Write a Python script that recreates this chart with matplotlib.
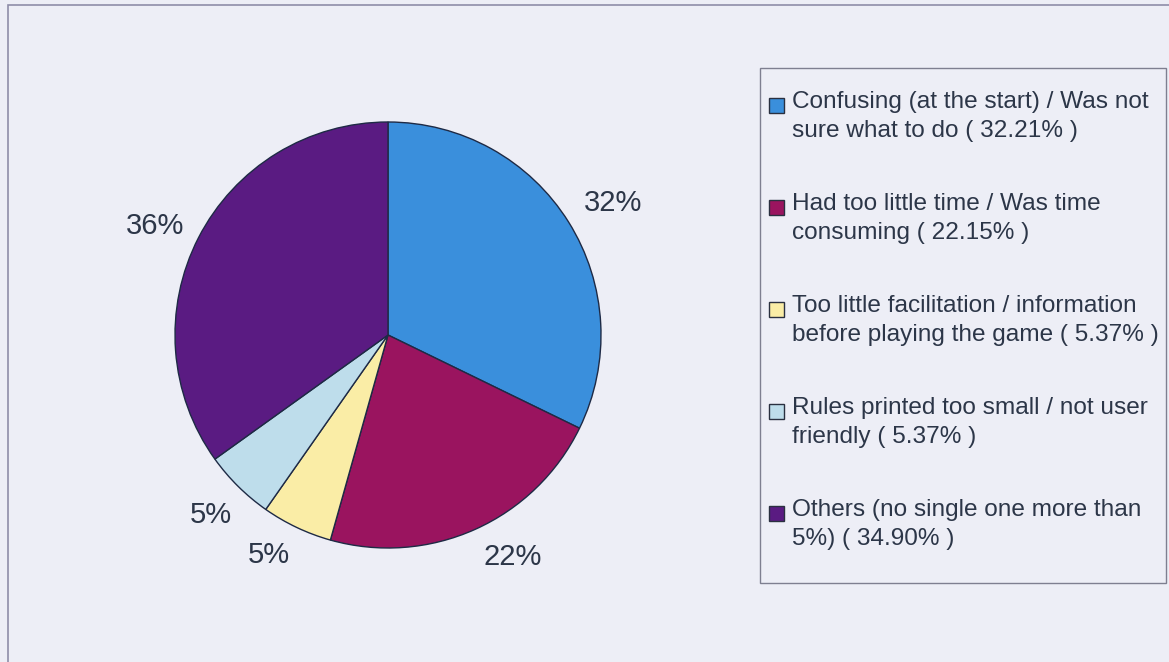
import numpy as np
import matplotlib.pyplot as plt
from matplotlib.patches import Rectangle

# data
categories = [
    'Confusing (at the start) / Was not\nsure what to do',
    'Had too little time / Was time\nconsuming',
    'Too little facilitation / information\nbefore playing the game',
    'Rules printed too small / not user\nfriendly',
    'Others (no single one more than\n5%)',
]
shares = [32.21, 22.15, 5.37, 5.37, 34.90]
pie_labels = ['32%', '22%', '5%', '5%', '36%']
colors = ['#3A8FDC', '#9A145F', '#FAEDA6', '#BEDDEB', '#5A1B82']

# small nudges of the slice labels (degrees, radius) to sit where the original put them
label_shift = [-1.6, 5.2, -3.0, 0.2, 2.0]
label_dist = [1.225, 1.196, 1.175, 1.185, 1.206]

BG = '#EDEEF6'
TXT = '#2C3648'
W, H = 1169, 662

plt.rcParams['font.family'] = ['Liberation Sans', 'DejaVu Sans']

fig = plt.figure(figsize=(W / 100, H / 100), dpi=100, facecolor=BG)

# outer chart frame (runs off the right / bottom of the picture)
fig.patches.append(Rectangle((8 / W, -0.1), 1.2, 1 - 5 / H + 0.1, transform=fig.transFigure,
                             facecolor='none', edgecolor='#8F8DA8', linewidth=1.2))

# pie, centre (388, 335) px, radius 213 px
cx, cy, r = 388, 335, 213
ax = fig.add_axes([(cx - r) / W, (H - cy - r) / H, 2 * r / W, 2 * r / H])
ax.set_facecolor('none')
wedges, texts = ax.pie(shares, labels=pie_labels, colors=colors, startangle=90, counterclock=False,
                       radius=1, labeldistance=1.2,
                       wedgeprops=dict(edgecolor='#1E2A45', linewidth=1.0),
                       textprops=dict(color=TXT, fontsize=21))
for w, t, da, d in zip(wedges, texts, label_shift, label_dist):
    mid = np.deg2rad((w.theta1 + w.theta2) / 2 + da)
    t.set_position((d * np.cos(mid), d * np.sin(mid)))
    t.set_ha('center')
    t.set_va('center')
ax.set_xlim(-1, 1)
ax.set_ylim(-1, 1)
ax.set_aspect('equal')
ax.axis('off')

# legend box
lx0, ly0, lx1, ly1 = 760, 68, 1166, 583
fig.patches.append(Rectangle((lx0 / W, 1 - ly1 / H), (lx1 - lx0) / W, (ly1 - ly0) / H,
                             transform=fig.transFigure, facecolor='none',
                             edgecolor='#7E7F90', linewidth=1.0))

y = 112  # baseline of first line of each entry
for cat, v, c in zip(categories, shares, colors):
    fig.patches.append(Rectangle((769 / W, 1 - (y + 1) / H), 15 / W, 15 / H, transform=fig.transFigure,
                                 facecolor=c, edgecolor='#2A3040', linewidth=1.0))
    fig.text(792 / W, 1 - (y - 21) / H, f'{cat} ( {v:.2f}% )', ha='left', va='top',
             fontsize=17.6, color=TXT, linespacing=1.4)
    y += 102

fig.savefig('out.png', dpi=100, facecolor=BG)
